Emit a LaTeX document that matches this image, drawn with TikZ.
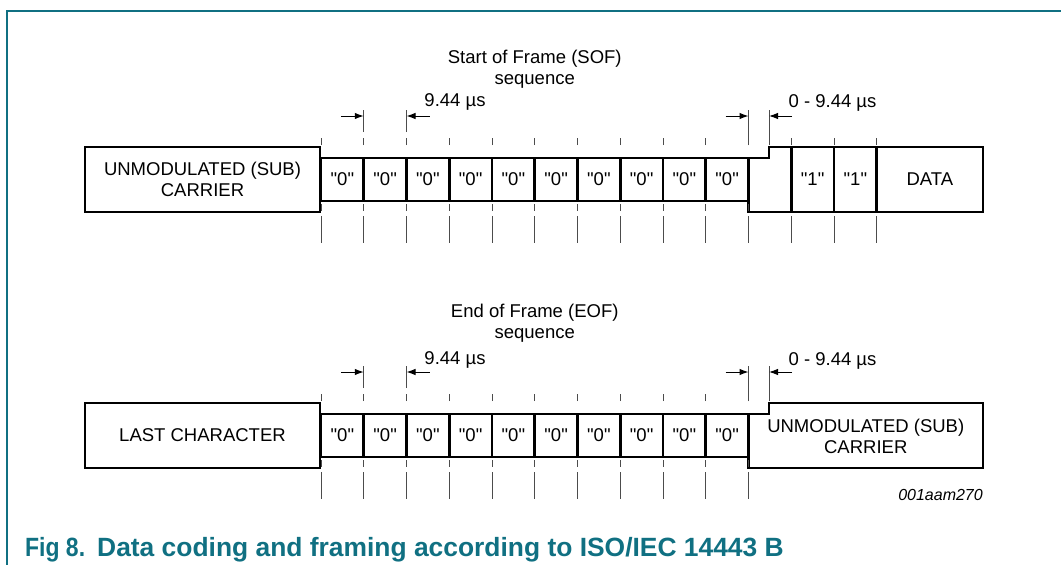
\documentclass[tikz,border=0pt]{standalone}
\usepackage{fontspec}
\setmainfont{Liberation Sans}
\usetikzlibrary{arrows.meta}
\definecolor{figteal}{RGB}{16,112,130}
\newcommand{\bitval}[1]{\textquotedbl#1\textquotedbl}

\begin{document}
\begin{tikzpicture}[
    x=1pt, y=-1pt,
    % Font settings
    font=\fontsize{18.5}{21.5}\selectfont,
    % Define the style for the big frame fields (thick black outline)
    field/.style={draw, line width=2.6pt, inner sep=0pt, outer sep=0pt, align=center, minimum height=65pt},
    % Define the style for the single bit cells
    bitcell/.style={draw, line width=2.6pt, inner sep=0pt, outer sep=0pt, minimum width=42.75pt, minimum height=43pt},
    % Thin grey timing marks
    tick/.style={line width=0.9pt, black!70},
    dim/.style={line width=1pt, -{Latex[length=9pt,width=6.5pt]}},
    txt/.style={align=center, inner sep=0pt},
    % Caption style
    captxt/.style={anchor=base west, inner sep=0pt, text=figteal, font=\fontsize{26.4}{30}\selectfont\bfseries}
]
    \useasboundingbox (0,0) rectangle (1061,565);

    % Page frame
    \draw[figteal, line width=1.6pt] (7,565) -- (7,11) -- (1061,11);

    % --- Row 1: Start of Frame ---
    \begin{scope}[shift={(0,0)}]
        \node[txt] (sof) at (534.75,69) {Start of Frame (SOF)\\sequence};

        \node[field, minimum width=235pt] (carrier) at (202.5,179.5) {UNMODULATED (SUB)\\CARRIER};
        \foreach \i in {1,...,10}
            \node[bitcell] (z\i) at ({299.625+42.75*\i},179.5) {\bitval{0}};
        \node[field, minimum width=42.75pt] (one1) at (812.625,179.5) {\bitval{1}};
        \node[field, minimum width=42.75pt] (one2) at (855.375,179.5) {\bitval{1}};
        \node[field, minimum width=106.25pt] (data) at (929.875,179.5) {DATA};
        \coordinate (stepx) at ([xshift=20.5pt]z10.north east);

        % Stepped field after the last "0"
        \draw[line width=2.6pt] (z10.north east) -- (stepx) -- ++(0,-11) -- (one1.north west);
        \draw[line width=2.6pt] (z10.north east) -- (z10.north east |- one1.south) -- (one1.south west);

        % Timing marks
        \foreach \i in {1,...,10} {
            \draw[tick] ([yshift=13pt]z\i.north east) -- ++(0,-7);
            \draw[tick] ([yshift=-3pt]z\i.south east) -- ++(0,7);
            \draw[tick] ([yshift=-15pt]z\i.south east) -- ++(0,27);
        }
        \draw[tick] ([yshift=13pt]z1.north west) -- ++(0,-7);
        \draw[tick] ([yshift=-3pt]z1.south west) -- ++(0,7);
        \draw[tick] ([yshift=-15pt]z1.south west) -- ++(0,27);
        \draw[tick] ([yshift=26pt]z1.north east) -- ++(0,-22);
        \draw[tick] ([yshift=26pt]z2.north east) -- ++(0,-22);
        \draw[tick] ([yshift=13pt]z10.north east) -- ++(0,-35);
        \draw[tick] ([yshift=13pt]stepx) -- ++(0,-35);
        \foreach \n in {one1, one2, data} {
            \draw[tick] ([yshift=2pt]\n.north west) -- ++(0,-7);
            \draw[tick] ([yshift=-4pt]\n.south west) -- ++(0,27);
        }

        % Bit period and start offset
        \coordinate (a1) at ([yshift=42pt]z1.north east);
        \coordinate (a2) at ([yshift=42pt]z2.north east);
        \coordinate (a3) at ([yshift=42pt]z10.north east);
        \coordinate (a4) at ([yshift=42pt]stepx);
        \draw[dim] ([xshift=-23pt]a1) -- (a1);
        \draw[dim] ([xshift=23pt]a2) -- (a2);
        \draw[dim] ([xshift=-23pt]a3) -- (a3);
        \draw[dim] ([xshift=23pt]a4) -- (a4);
        \node[txt] (bit1) at (455,102) {9.44 µs};
        \node[txt] (off1) at (832.5,103) {0 - 9.44 µs};
    \end{scope}


    % --- Row 2: End of Frame ---
    \begin{scope}[shift={(0,256)}]
        \node[txt] (eof) at (534.75,67) {End of Frame (EOF)\\sequence};

        \node[field, minimum width=235pt] (last) at (202.5,179.5) {LAST CHARACTER};
        \foreach \i in {1,...,10}
            \node[bitcell] (z\i) at ({299.625+42.75*\i},179.5) {\bitval{0}};
        \node[txt, minimum width=234.5pt] (carrier2) at (865.75,180.5) {UNMODULATED (SUB)\\CARRIER};
        \coordinate (stepx) at ([xshift=20.5pt]z10.north east);

        % Stepped field after the last "0"
        \draw[line width=2.6pt] (z10.north east) -- (stepx) -- ++(0,-11) -- (983,147)
            -- (983,212) -- (z10.north east |- 0,212) -- cycle;

        % Timing marks
        \foreach \i in {1,...,10} {
            \draw[tick] ([yshift=13pt]z\i.north east) -- ++(0,-7);
            \draw[tick] ([yshift=-3pt]z\i.south east) -- ++(0,7);
            \draw[tick] ([yshift=-15pt]z\i.south east) -- ++(0,27);
        }
        \draw[tick] ([yshift=13pt]z1.north west) -- ++(0,-7);
        \draw[tick] ([yshift=-3pt]z1.south west) -- ++(0,7);
        \draw[tick] ([yshift=-15pt]z1.south west) -- ++(0,27);
        \draw[tick] ([yshift=26pt]z1.north east) -- ++(0,-22);
        \draw[tick] ([yshift=26pt]z2.north east) -- ++(0,-22);
        \draw[tick] ([yshift=13pt]z10.north east) -- ++(0,-35);
        \draw[tick] ([yshift=13pt]stepx) -- ++(0,-35);

        % Bit period and stop offset
        \coordinate (b1) at ([yshift=42pt]z1.north east);
        \coordinate (b2) at ([yshift=42pt]z2.north east);
        \coordinate (b3) at ([yshift=42pt]z10.north east);
        \coordinate (b4) at ([yshift=42pt]stepx);
        \draw[dim] ([xshift=-23pt]b1) -- (b1);
        \draw[dim] ([xshift=23pt]b2) -- (b2);
        \draw[dim] ([xshift=-23pt]b3) -- (b3);
        \draw[dim] ([xshift=23pt]b4) -- (b4);
        \node[txt] (bit2) at (455,104) {9.44 µs};
        \node[txt] (off2) at (832.5,105) {0 - 9.44 µs};
    \end{scope}

    % Drawing number
    \node[txt, anchor=east, font=\fontsize{16}{18}\selectfont\itshape] (docid) at (983,495) {001aam270};

    % Caption
    \node[captxt, xscale=0.87] (figno) at (25,556) {Fig 8.};
    \node[captxt] (figcap) at (97,556) {Data coding and framing according to ISO/IEC 14443 B};

\end{tikzpicture}
\end{document}
